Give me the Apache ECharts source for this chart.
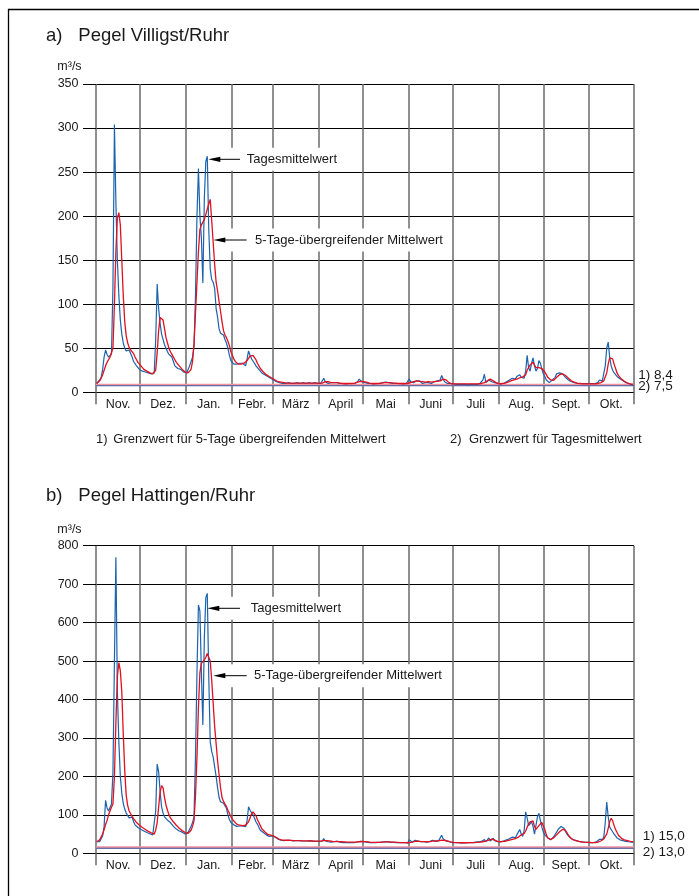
<!DOCTYPE html>
<html>
<head>
<meta charset="utf-8">
<script src="https://cdn.jsdelivr.net/npm/echarts@6/dist/echarts.min.js"></script>
<style>
  html, body { margin: 0; padding: 0; background: #fff; }
  #chart { width: 699px; height: 896px; }
</style>
</head>
<body>
<div id="chart"></div>
<script>
// Abflussjahr November bis Oktober, Tageswerte in m³/s
const monthLabels = ['Nov.', 'Dez.', 'Jan.', 'Febr.', 'März', 'April', 'Mai', 'Juni', 'Juli', 'Aug.', 'Sept.', 'Okt.'];
const monthDays = [30, 31, 31, 28, 31, 30, 31, 30, 31, 31, 30, 31];

const villigstTicks = [0, 50, 100, 150, 200, 250, 300, 350];
const hattingenTicks = [0, 100, 200, 300, 400, 500, 600, 700, 800];

// Grenzwerte: 1) 5-Tage übergreifender Mittelwert, 2) Tagesmittelwert
const villigstLimits = [8.4, 7.5];
const hattingenLimits = [15.0, 13.0];

// Pegel Villigst – Tagesmittelwert, eine Zeile je Monat
const villigstTag = [
  [10,11,14,17,26,40,48,43,40,41,43,120,304,215,150,110,82,66,56,50,47,45,48,46,40,35,33,30,28,26],
  [25,24,23,23,22,22,21,21,20,22,60,123,95,78,66,60,54,50,46,43,41,40,35,30,28,27,26,26,25,23,22],
  [22,24,30,35,40,52,110,200,254,200,175,124,220,262,268,185,140,128,125,118,95,85,72,67,66,65,60,56,50,42,36],
  [34,32,31,32,34,33,32,33,31,30,38,47,42,38,36,33,30,28,26,24,22,21,20,19,18,17,16,15],
  [14,13,12,12,11,11,10,11,10,10,11,10,10,11,10,10,11,11,10,10,11,10,10,10,11,10,10,10,11,10,10],
  [10,10,11,16,12,10,10,10,11,10,11,13,11,10,10,10,10,10,9.5,10,10,10,10,10,10,11,12,15,13,12],
  [12,11,10.5,10,10,10,10,9.5,10,10,10,10,10.5,11,11,11.5,11,11,10.5,10.5,10,10,10,10,10,10,9.5,9.5,10,10,10],
  [15,12,10,11,13,13,12,13,11,10,10,11,12,11,11,10,11,12,12,13,12,14,19,15,12,11,10,10,10,9.5],
  [9.5,9.5,9,9,9,9.5,9,9,9,9,8.5,9,9,9,9,9,9,9.5,10,11,14,20.5,11,12,14,13,12,12,11,10,10],
  [9.5,9.5,10,10,11,12,13,14,15,16,14,15,18,20,20,17,16,16,24,42,28,24,33,39,30,24,27,36,33,26,21],
  [18,14,12,11,13,14,12,17,21,20,22,23,21,19,17,16,14,13,12,11,11,10.5,10,10,10,10,10,10,10,10],
  [10,10,10,10,10,10,11,14,16,13,14,30,50,57,40,30,25,22,20,18,16.5,15.5,14,13,12,11,10.5,10,9,8.5,8.5]
];

// Pegel Villigst – 5-Tage übergreifender Mittelwert
const villigst5Tage = [
  [10,11,13,16,20,25,30,34,37,40,42,50,100,160,198,204,190,150,110,80,64,56,51,48,46,44,40,37,34,32],
  [30,28,26,25,24,23,22,22,21,21,25,45,70,85,87,82,72,62,56,50,46,43,40,37,34,32,30,28,26,24,23],
  [22,22,23,26,35,55,90,125,160,185,190,192,196,202,208,214,219,195,170,145,125,115,103,92,80,70,65,62,58,53,46],
  [42,38,35,33,32,32,32,32,33,34,36,38,41,42,42,40,37,33,30,27,25,23,21,20,19,18,17,16],
  [15,14,13,12,12,11.5,11,11,10.5,10.5,10.5,10.5,10.5,10.5,10.5,10.5,10.5,10.5,10.5,10.5,10.5,10.5,10.5,10.5,10.5,10.5,10.5,10.5,10.5,10.5,10.5],
  [10.5,10.5,10.5,11,12,12,12,11.5,11,11,11,11,11,11,10.5,10.5,10,10,10,10,10,10,10,10,10.5,11,11.5,12,12.5,12.5],
  [12,12,11.5,11,10.5,10.5,10,10,10,10,10,10,10.5,10.5,11,11,11,11,11,11,10.5,10.5,10.5,10,10,10,10,10,10,10,10],
  [10.5,11,11.5,12,12.5,13,13,12.5,12,12,11.5,11.5,12,12,12,11.5,11.5,12,12,12.5,12.5,13,14,15,15,14,12.5,11,10,9.5],
  [9.5,9.5,9.5,9.5,9.5,9.5,9.5,9.5,9.5,9.5,9.5,9.5,9.5,9.5,9.5,9.5,9.5,9.5,9.5,10,10.5,11,12,13,14,15,14,13,12,11,10.5],
  [9.5,9.5,10,10,10.5,11,11.5,12,13,13.5,14,14.5,15,16,16.5,17,17.5,18,20,25,28,31,33,34,31,28,28,28,28,27,26],
  [23,20,17,15,14,13,13.5,15,17,19,20,21,21,20,19,17.5,16,14.5,13,12,11.5,11,10.5,10,10,9.5,9.5,9.5,9.5,9.5],
  [9.5,9.5,9.5,9.5,9.5,9.5,10,10.5,11,12,13,15,22,32,39,41,38,32,27,22,19,17,15,13.5,12.5,11.5,10.5,10,9.5,9,9]
];

// Pegel Hattingen – Tagesmittelwert
const hattingenTag = [
  [30,27,30,38,45,70,138,118,110,115,128,210,500,770,420,290,200,156,130,115,105,98,92,96,94,82,74,70,67,64],
  [62,60,58,56,54,52,51,50,48,52,110,232,212,160,120,105,95,90,86,84,80,76,70,66,63,60,58,57,55,53,50],
  [52,55,60,70,80,95,250,470,646,630,470,334,560,665,676,460,290,265,250,225,200,170,145,134,132,130,125,117,100,88,80],
  [77,74,72,70,69,71,73,71,70,69,85,121,112,108,100,92,82,76,68,60,56,54,50,48,46,44,42,45],
  [44,42,40,37,35,34,34,33,35,34,33,34,33,32,34,33,32,33,34,32,33,32,33,32,31,33,32,31,32,31,31],
  [31,31,32,38,32,31,30,30,29,30,30,29,32,30,29,29,28,29,28,28,28,29,28,28,28,29,30,34,31,30],
  [30,30,29,28.5,28,28,27.5,27.5,28,28,28.5,28.5,29,29.5,30,30,29.5,29,29,29,28.5,28.5,28,28,28,27.5,27.5,27.5,27.5,27,27],
  [35,30,29,32,34,33,32,30,30,29,30,30,29,30,31,33,34,32,31,32,33,34,47,38,33,32,31,30,29,28],
  [28,28,27.5,27.5,27,27,27,27,27,27.5,27.5,28,28,28,28.5,29,29,30,30,31,33,36,30,33,40,32,34,39,33,31,30],
  [30,30,31,32,33,35,37,38,36,42,44,40,48,55,62,50,44,60,108,92,72,68,82,70,50,55,95,104,85,68,55],
  [48,43,40,38,35,40,43,45,55,62,66,70,72,65,57,50,45,41,38,36,34,33,32,31,30.5,30,29.5,29,29,28.5],
  [28.5,28,28,28,29,30,33,36,38,36,42,80,133,95,68,62,56,50,45,40,37,35,34,33,32,31,30.5,30,30,29,29]
];

// Pegel Hattingen – 5-Tage übergreifender Mittelwert
const hattingen5Tage = [
  [30,32,35,40,50,62,75,85,100,110,120,128,200,340,460,496,475,420,310,215,150,124,110,103,96,90,85,80,76,73],
  [70,67,64,62,60,57,55,53,51,50,60,80,120,160,176,170,145,125,112,100,92,88,82,77,73,69,65,62,59,56,54],
  [52,52,54,60,70,85,150,250,380,470,494,498,503,510,520,524,500,450,390,330,285,240,205,170,145,135,128,122,112,104,95],
  [90,84,80,76,74,73,72,72,72,73,76,82,92,102,108,106,98,88,80,72,64,60,56,52,49,48,47,46],
  [45,43,41,38,36,35,34.5,34,34,34,34,33.5,33.5,33.5,33,33,33,33,33,33,32.5,32.5,32.5,32,32,32,32,32,31.5,31.5,31.5],
  [31.5,31.5,32,33,33,33,32.5,32,31.5,31,31,30.5,30.5,30.5,30,30,29.5,29.5,29,29,29,29,29,29,29,29,29.5,30,30.5,31],
  [31,30.5,30,29.5,29,28.5,28.5,28.5,28.5,28.5,28.5,28.5,28.5,29,29,29.5,29.5,29.5,29.5,29,29,29,28.5,28.5,28,28,28,28,28,27.5,27.5],
  [27.5,28,29,30,31,31.5,31.5,31,30.5,30.5,30.5,30,30,30,30.5,31,31.5,31.5,32,32,32.5,33,34,34,33.5,33,32,31,30,29],
  [28.5,28,28,27.5,27.5,27.5,27.5,27.5,27.5,27.5,27.5,27.5,28,28,28,28,28.5,28.5,29,29.5,30,31,32,33,34.5,36,37,36,34,32,31],
  [30,30,30.5,31,31.5,32,33,34,35,36,37,38,40,42,45,48,50,52,58,68,76,82,86,84,70,62,66,72,76,80,76],
  [62,48,40,37,36,36,40,44,48,52,56,60,62,63,60,54,47,42,38,36,34,33,32,31,30,29.5,29,29,28.5,28.5],
  [28.5,28.5,28,28,28,28.5,29,30,32,34,37,44,50,65,82,91,85,72,62,54,47,42,39,37,35,34,33,32,31,30.5,30]
];

// ---- axis helpers -------------------------------------------------------
const monthStarts = [0];
monthDays.forEach((d, i) => monthStarts.push(monthStarts[i] + d));
const yearDays = monthStarts[monthStarts.length - 1];
const monthMids = monthDays.map((d, i) => monthStarts[i] + d / 2);

function monthOf(v) {
  let m = 0;
  for (let i = 0; i < monthDays.length; i++) if (v >= monthStarts[i]) m = i;
  return m;
}

// each day sits in the middle of its own slot on the day axis
function toPoints(months) {
  const pts = [];
  months.forEach((arr, m) => arr.forEach((v, j) => pts.push([monthStarts[m] + j + 0.5, v])));
  return pts;
}

const FONT = '"Liberation Sans", Arial, Helvetica, sans-serif';
const TEXT = '#1a1a1a';
const BLUE = '#1c63ad';
const RED = '#e3101f';
const GRIDV = '#6a6a6a';

function xAxisFor(gridIndex) {
  return {
    type: 'value', gridIndex, min: 0, max: yearDays,
    axisLine: { show: true, lineStyle: { color: '#000', width: 1 } },
    axisTick: { show: true, customValues: monthStarts, length: 12, inside: false,
                lineStyle: { color: GRIDV, width: 1.5 } },
    splitLine: { show: true, lineStyle: { color: GRIDV, width: 1.5 } },
    axisLabel: { show: true, customValues: monthMids, margin: 6, color: TEXT,
                 fontFamily: FONT, fontSize: 12.5,
                 formatter: v => monthLabels[monthOf(v)] }
  };
}

function yAxisFor(gridIndex, ticks) {
  return {
    type: 'value', gridIndex,
    min: ticks[0], max: ticks[ticks.length - 1], interval: ticks[1] - ticks[0],
    axisLine: { show: false },
    axisTick: { show: true, length: 13, inside: false, lineStyle: { color: '#000', width: 1 } },
    splitLine: { show: true, lineStyle: { color: '#000', width: 1 } },
    axisLabel: { margin: 17.5, color: TEXT, fontFamily: FONT, fontSize: 12.5 }
  };
}

function seriesFor(idx, limits, tag, fuenf) {
  const base = { type: 'line', xAxisIndex: idx, yAxisIndex: idx, symbol: 'none',
                 silent: true, animation: false };
  return [
    Object.assign({}, base, { name: 'Grenzwert 5-Tage', z: 3,
      data: [[0, limits[0]], [yearDays, limits[0]]],
      lineStyle: { color: '#f1929c', width: 2.4 } }),
    Object.assign({}, base, { name: 'Grenzwert Tag', z: 3,
      data: [[0, limits[1]], [yearDays, limits[1]]],
      lineStyle: { color: '#3e5ca6', width: 1.1 } }),
    Object.assign({}, base, { name: 'Tagesmittelwert', z: 4,
      data: toPoints(tag), lineStyle: { color: BLUE, width: 1.2 } }),
    Object.assign({}, base, { name: '5-Tage-übergreifender Mittelwert', z: 5,
      data: toPoints(fuenf), lineStyle: { color: RED, width: 1.3 } })
  ];
}

// ---- text, annotations --------------------------------------------------
function txt(x, y, s, size, extra) {
  return Object.assign({
    type: 'text', x, y, z: 20,
    style: { text: s, fill: TEXT, font: size + 'px ' + FONT,
             textAlign: 'left', textVerticalAlign: 'middle' }
  }, extra || {});
}

function arrowLabel(tipX, y, tailX, textX, label, boxRight) {
  return [
    { type: 'rect', z: 15, shape: { x: 226, y: y - 11.5, width: boxRight - 226, height: 23 },
      style: { fill: '#fff', stroke: null } },
    { type: 'line', z: 20, shape: { x1: tipX + 9, y1: y, x2: tailX, y2: y },
      style: { stroke: '#000', lineWidth: 1 } },
    { type: 'polygon', z: 20,
      shape: { points: [[tipX, y], [tipX + 12, y - 2.6], [tipX + 12, y + 2.6]] },
      style: { fill: '#000' } },
    txt(textX, y, label, 13)
  ];
}

const graphics = [
  { type: 'rect', z: 1, shape: { x: 8.5, y: 9.5, width: 760, height: 960 },
    style: { fill: null, stroke: '#000', lineWidth: 1.3 } },
  txt(46, 36, 'a)', 18.5), txt(78.3, 36, 'Pegel Villigst/Ruhr', 18.5),
  txt(57.3, 66.7, 'm³/s', 12.5),
  txt(46, 496.3, 'b)', 18.5), txt(78.3, 496.3, 'Pegel Hattingen/Ruhr', 18.5),
  txt(57.3, 530, 'm³/s', 12.5),
  txt(96, 439, '1)', 13), txt(113.3, 439, 'Grenzwert für 5-Tage übergreifenden Mittelwert', 13),
  txt(450, 439, '2)', 13), txt(469, 439, 'Grenzwert für Tagesmittelwert', 13),
  txt(638.3, 375, '1) ' + villigstLimits[0].toFixed(1).replace('.', ','), 13.5),
  txt(638.3, 386.5, '2) ' + villigstLimits[1].toFixed(1).replace('.', ','), 13.5),
  txt(642.7, 836.7, '1) ' + hattingenLimits[0].toFixed(1).replace('.', ','), 13.5),
  txt(642.7, 852.7, '2) ' + hattingenLimits[1].toFixed(1).replace('.', ','), 13.5)
].concat(
  arrowLabel(208.3, 159.3, 240, 246.7, 'Tagesmittelwert', 342),
  arrowLabel(213.3, 240, 246.7, 255, '5-Tage-übergreifender Mittelwert', 450),
  arrowLabel(207.3, 608.3, 240, 250.7, 'Tagesmittelwert', 346),
  arrowLabel(213.3, 675.7, 246.7, 254, '5-Tage-übergreifender Mittelwert', 450)
);

const chart = echarts.init(document.getElementById('chart'), null, { renderer: 'canvas' });
chart.setOption({
  animation: false,
  backgroundColor: '#fff',
  textStyle: { fontFamily: FONT },
  grid: [
    { left: 96, top: 84, width: 538, height: 308.3, containLabel: false },
    { left: 96, top: 545.7, width: 538, height: 307.6, containLabel: false }
  ],
  xAxis: [xAxisFor(0), xAxisFor(1)],
  yAxis: [yAxisFor(0, villigstTicks), yAxisFor(1, hattingenTicks)],
  series: seriesFor(0, villigstLimits, villigstTag, villigst5Tage)
    .concat(seriesFor(1, hattingenLimits, hattingenTag, hattingen5Tage)),
  graphic: { elements: graphics }
});
</script>
</body>
</html>
